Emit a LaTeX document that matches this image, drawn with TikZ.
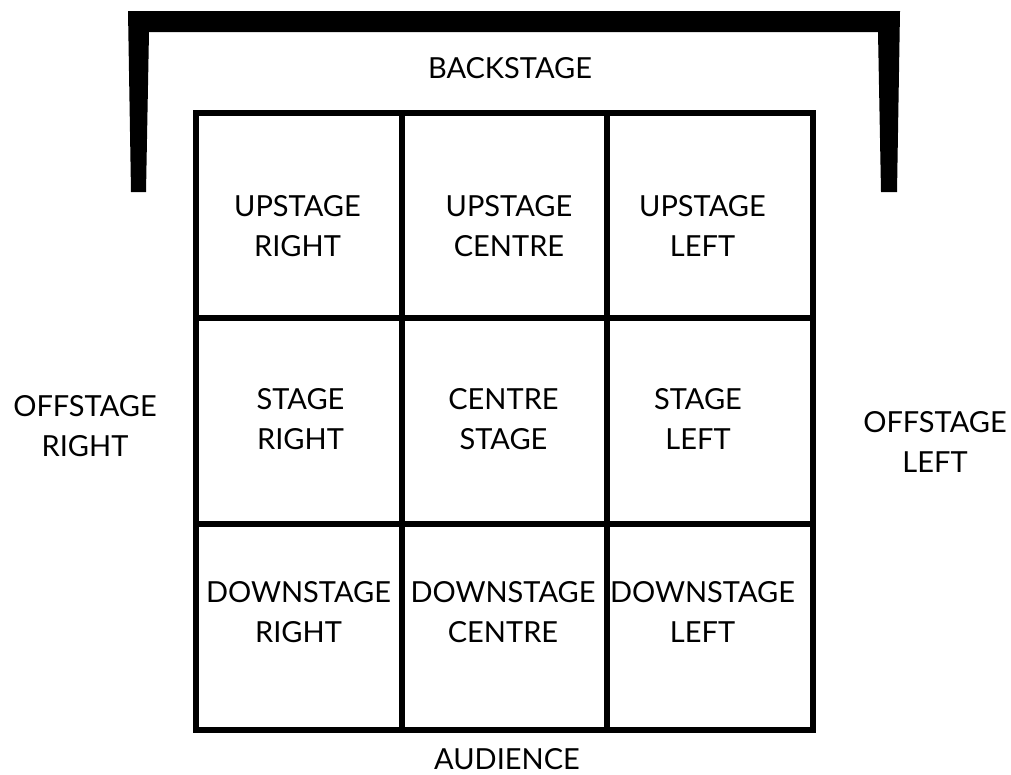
\documentclass[tikz,border=0pt]{standalone}
\usepackage{fontspec}
\setmainfont{Lato}
\begin{document}
\begin{tikzpicture}[x=1pt,y=-1pt,
  gridline/.style={line width=6pt,draw=black},
  lbl/.style={align=center,font=\fontsize{29}{40}\selectfont,inner sep=0pt,text=black}]
\useasboundingbox (0,0) rectangle (1011,774);
% backstage bracket
\fill[black] (128,11) -- (900,11) -- (897,192) -- (881,192) -- (878,32) -- (149,32) -- (146,192) -- (131,192) -- cycle;
% grid
\draw[gridline] (195.5,113) rectangle (813,730);
\draw[gridline] (401.5,113) -- (401.5,730);
\draw[gridline] (607,113) -- (607,730);
\draw[gridline] (195.5,318) -- (813,318);
\draw[gridline] (195.5,524) -- (813,524);
% labels
\node[lbl] (back) at (510,68) {BACKSTAGE};
\node[lbl] (aud) at (507,759) {AUDIENCE};
\node[lbl] (offr) at (85,426.5) {OFFSTAGE\\RIGHT};
\node[lbl] (offl) at (935,442) {OFFSTAGE\\LEFT};
\node[lbl] (usr) at (297.5,226) {UPSTAGE\\RIGHT};
\node[lbl] (usc) at (509,226) {UPSTAGE\\CENTRE};
\node[lbl] (usl) at (702.5,226) {UPSTAGE\\LEFT};
\node[lbl] (sr) at (300.5,419) {STAGE\\RIGHT};
\node[lbl] (cs) at (503.5,419) {CENTRE\\STAGE};
\node[lbl] (sl) at (698,419) {STAGE\\LEFT};
\node[lbl] (dsr) at (298.5,612) {DOWNSTAGE\\RIGHT};
\node[lbl] (dsc) at (503,612) {DOWNSTAGE\\CENTRE};
\node[lbl] (dsl) at (702.5,612) {DOWNSTAGE\\LEFT};
\end{tikzpicture}
\end{document}
